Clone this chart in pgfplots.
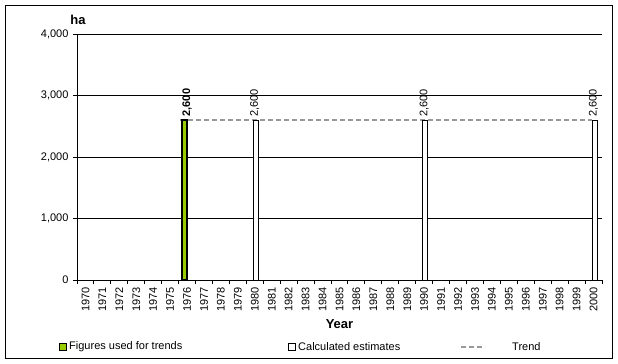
\documentclass[border=0pt]{standalone}
\usepackage{fontspec}
\setmainfont{Liberation Sans}
\usepackage{pgfplots}
\pgfplotsset{compat=1.18}
\definecolor{barGreen}{HTML}{99CC00}
\definecolor{trendGray}{HTML}{999999}
\newcommand{\tf}{\fontsize{11bp}{13bp}\selectfont}
\newcommand{\bigbf}{\fontsize{13bp}{15bp}\selectfont\bfseries}
\begin{document}
\begin{tikzpicture}
\useasboundingbox (0bp,0bp) rectangle (618bp,364bp);
\fill[white] (0bp,0bp) rectangle (618bp,364bp);
\draw[line width=1bp] (5.5bp,5.5bp) rectangle (612.5bp,358.5bp);
\begin{axis}[
  at={(77bp,84bp)}, anchor=south west, scale only axis,
  width=525bp, height=246bp,
  xmin=1969.5, xmax=2000.5, ymin=0, ymax=4000,
  axis x line*=bottom, axis y line*=left,
  axis line style={line width=1bp, -},
  ytick={0,1000,2000,3000,4000},
  ymajorgrids, major grid style={line width=1bp, black},
  xtick={1970,1971,...,2000},
  minor xtick={1969.5,1970.5,...,2000.5},
  major x tick style={draw=none},
  tick align=outside,
  major tick length=4bp, minor tick length=4bp,
  tick style={line width=1bp, black},
  /pgf/number format/.cd, 1000 sep={,}, assume math mode=true, /pgfplots/.cd,
  scaled ticks=false,
  tick label style={font=\tf},
  xticklabel style={rotate=90, anchor=east, /pgf/number format/1000 sep={}},
  yticklabel style={xshift=-1bp},
  clip=false,
]
\addplot[trendGray, line width=2bp, dash pattern=on 5bp off 3bp] coordinates {(1975.6,2600) (1999.9,2600)};
\addplot[ybar, bar width=5bp, bar shift=-2.5bp, fill=barGreen, draw=black, line width=1.5bp,
  nodes near coords, nodes near coords style={font=\tf\bfseries, rotate=90, anchor=west, inner sep=3bp, text=black}]
  coordinates {(1976,2600)};
\addplot[ybar, bar width=5bp, bar shift=1bp, fill=white, draw=black, line width=1bp,
  nodes near coords, nodes near coords style={font=\tf, rotate=90, anchor=west, inner sep=3bp, text=black}]
  coordinates {(1980,2600) (1990,2600) (2000,2600)};
\end{axis}
\node[font=\bigbf] at (78bp,344bp) {ha};
\node[font=\bigbf] at (339.5bp,40bp) {Year};
\draw[fill=barGreen, line width=1bp] (59.5bp,13.5bp) rectangle (66.5bp,20.5bp);
\node[font=\tf, anchor=west, inner sep=0pt] at (69bp,17bp) {Figures used for trends};
\draw[fill=white, line width=1bp] (288.5bp,13.5bp) rectangle (295.5bp,20.5bp);
\node[font=\tf, anchor=west, inner sep=0pt] at (298bp,17bp) {Calculated estimates};
\draw[trendGray, line width=2bp, dash pattern=on 5bp off 3bp] (461bp,17bp) -- (485bp,17bp);
\node[font=\tf, anchor=west, inner sep=0pt] at (512bp,17bp) {Trend};
\end{tikzpicture}
\end{document}
